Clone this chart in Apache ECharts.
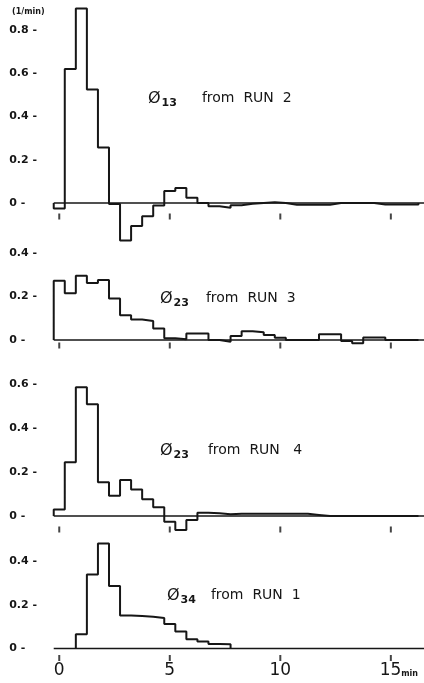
<!DOCTYPE html>
<html>
<head>
<meta charset="utf-8">
<script src="https://cdn.jsdelivr.net/npm/echarts@6/dist/echarts.min.js"></script>
<style>
  html, body { margin: 0; padding: 0; background: #fff; }
  #chart { width: 424px; height: 683px; }
</style>
</head>
<body>
<div id="chart"></div>
<script>
// histogram bins are 0.5 min wide, each list starts at the bin centred on its start time
var binWidth = 0.5;

var run2Start = 0;
var run2Phi13 = [-0.025, 0.62, 0.90, 0.525, 0.257, -0.005, -0.174, -0.107, -0.061, -0.012,
  0.055, 0.07, 0.024, 0.0, -0.015, -0.022, -0.01, -0.004, 0, 0.003,
  0, -0.008, -0.008, -0.008, -0.008, 0, 0, 0, 0, -0.007, -0.007, -0.007, -0.007];

var run3Start = 0;
var run3Phi23 = [0.272, 0.214, 0.295, 0.262, 0.275, 0.19, 0.113, 0.094, 0.087, 0.053,
  0.008, 0.003, 0.03, 0.03, 0, -0.008, 0.018, 0.04, 0.035, 0.023,
  0.01, 0, 0, 0, 0.026, 0.026, -0.005, -0.015, 0.011, 0.011, 0, 0, 0];

var run4Start = 0;
var run4Phi23 = [0.03, 0.244, 0.585, 0.508, 0.153, 0.092, 0.164, 0.121, 0.076, 0.04,
  -0.026, -0.064, -0.018, 0.015, 0.012, 0.008, 0.01, 0.01, 0.01, 0.01,
  0.01, 0.01, 0.01, 0.005, 0, 0, 0, 0, 0, 0, 0, 0, 0];

var run1Start = 1.0;
var run1Phi34 = [0.066, 0.34, 0.483, 0.287, 0.152, 0.149, 0.146, 0.14, 0.113, 0.078,
  0.043, 0.032, 0.021, 0.02];

var xTicks = [0, 5, 10, 15];
var baseFrom = -0.25, baseTo = 16.5;

var ink = '#161616';

// turn bin values into the outline of a histogram (vertical walls between bins)
function histPoints(start, values) {
    var pts = [];
    var left0 = start - binWidth / 2;
    pts.push([left0, 0]);
    values.forEach(function (v, i) {
        var l = left0 + i * binWidth;
        pts.push([l, v]);
        pts.push([l + binWidth, v]);
    });
    pts.push([left0 + values.length * binWidth, 0]);
    return pts;
}

var panels = [
    {start: run2Start, vals: run2Phi13, top: 30.2, height: 172.8, max: 0.8, tickOff: 13.5},
    {start: run3Start, vals: run3Phi23, top: 252.8, height: 87.2, max: 0.4, tickOff: 5.5},
    {start: run4Start, vals: run4Phi23, top: 384, height: 132, max: 0.6, tickOff: 13.5},
    {start: run1Start, vals: run1Phi34, top: 561.5, height: 87, max: 0.4, tickOff: 9.5}
];

var grids = [], xAxes = [], yAxes = [], series = [];
panels.forEach(function (p, i) {
    grids.push({left: 48.2, width: 383.4, top: p.top, height: p.height});
    var last = i === panels.length - 1;
    xAxes.push({
        gridIndex: i, type: 'value', min: -0.5, max: 16.5,
        show: last,
        axisLine: {show: false}, axisTick: {show: false}, splitLine: {show: false},
        axisLabel: {
            customValues: xTicks, margin: 14,
            fontFamily: 'DejaVu Sans', fontSize: 17, color: ink,
            formatter: function (v) {
                return v === 15 ? '{p|}15{u|min}' : String(v);
            },
            rich: {
                p: {width: 16},
                u: {fontFamily: 'DejaVu Sans', fontSize: 8, fontWeight: 'bold', color: ink, padding: [6, 0, 0, 0]}
            }
        }
    });
    yAxes.push({
        gridIndex: i, type: 'value', min: 0, max: p.max, interval: 0.2,
        axisLine: {show: false}, axisTick: {show: false}, splitLine: {show: false},
        axisLabel: {
            align: 'left', margin: 39,
            fontFamily: 'DejaVu Sans', fontWeight: 'bold', fontSize: 11, color: ink,
            formatter: function (v) {
                return (Math.abs(v) < 1e-9 ? '0' : v.toFixed(1)) + ' -';
            }
        }
    });
    // zero line
    series.push({
        type: 'line', xAxisIndex: i, yAxisIndex: i, clip: false,
        data: [[baseFrom, 0], [baseTo, 0]],
        symbol: 'none', lineStyle: {color: ink, width: 1.4}, silent: true
    });
    // histogram outline
    series.push({
        type: 'line', xAxisIndex: i, yAxisIndex: i, clip: false,
        data: histPoints(p.start, p.vals),
        symbol: 'none', lineStyle: {color: ink, width: 2}, silent: true
    });
    // little tick marks under the zero line
    series.push({
        type: 'scatter', xAxisIndex: i, yAxisIndex: i, clip: false,
        data: xTicks.map(function (t) { return [t, 0]; }),
        symbol: 'rect', symbolSize: [2, 6], symbolOffset: [0, p.tickOff],
        itemStyle: {color: ink}, silent: true
    });
});

function label(text, sub, x, y, gap) {
    return {
        type: 'text', left: x, top: y,
        style: {
            text: '{phi|Ø}{sub|' + sub + '}{t|' + text + '}',
            rich: {
                phi: {fontFamily: 'DejaVu Sans', fontSize: 16, lineHeight: 16, verticalAlign: 'middle', fill: ink},
                sub: {fontFamily: 'DejaVu Sans', fontWeight: 'bold', fontSize: 11, lineHeight: 11,
                      padding: [10, 0, 0, 1], verticalAlign: 'middle', fill: ink},
                t: {fontFamily: 'DejaVu Sans', fontSize: 14, lineHeight: 14, verticalAlign: 'middle',
                    padding: [0, 0, 0, gap], fill: ink}
            }
        }
    };
}

var chart = echarts.init(document.getElementById('chart'));
chart.setOption({
    animation: false,
    backgroundColor: '#fff',
    grid: grids,
    xAxis: xAxes,
    yAxis: yAxes,
    series: series,
    graphic: [
        {type: 'text', left: 12, top: 8,
         style: {text: '(1/min)', fontFamily: 'DejaVu Sans', fontWeight: 'bold', fontSize: 8, fill: ink}},
        label('from  RUN  2', '13', 148, 88, 25),
        label('from  RUN  3', '23', 160, 288, 17),
        label('from  RUN   4', '23', 160, 440, 19),
        label('from  RUN  1', '34', 167, 585, 15)
    ]
});
</script>
</body>
</html>
